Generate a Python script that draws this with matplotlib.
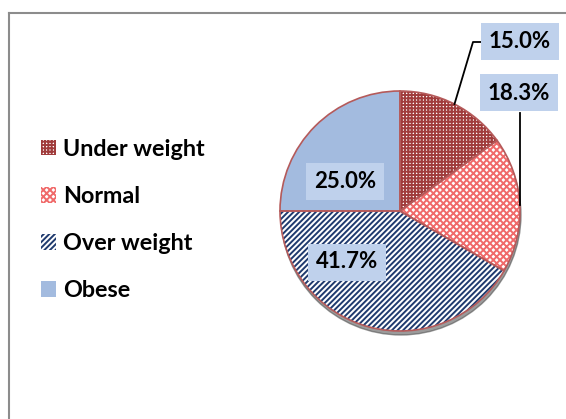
"""BMI category pie chart - recreated from an Excel-style figure."""

import numpy as np
import matplotlib
matplotlib.use("Agg")
import matplotlib.pyplot as plt
from matplotlib.patches import Circle
from matplotlib.lines import Line2D

categories = ["Under weight", "Normal", "Over weight", "Obese"]
shares = [15.0, 18.3, 41.7, 25.0]

hatch_colors = ["#A03C3C", "#F06A6A", "#1F3A6E", "#A3BBDF"]
hatches = ["+++++", "xxxxx", "//////", None]
edge_color = "#B55A5A"
box_color = "#BFD1EC"

plt.rcParams["font.family"] = ["Lato", "DejaVu Sans"]
plt.rcParams["hatch.linewidth"] = 1.4

W, H = 566, 419
fig = plt.figure(figsize=(W / 100, H / 100), dpi=100)
ax = fig.add_axes([0, 0, 1, 1])

cx, cy, r = 400, H - 211, 120

# soft shadow under the pie
ax.add_patch(Circle((cx + 1, cy - 4), r, color="#4a4a4a", alpha=0.55, zorder=0))

wedges, _ = ax.pie(shares, startangle=90, counterclock=False, center=(cx, cy),
                   radius=r, wedgeprops=dict(linewidth=0))
for w, hc, ht in zip(wedges, hatch_colors, hatches):
    if ht is None:
        w.set_facecolor(hc)
        w.set_edgecolor(hc)
    else:
        w.set_facecolor("white")
        w.set_edgecolor(hc)
        w.set_hatch(ht)
    w.set_zorder(1)

# outlines drawn on top
outline, _ = ax.pie(shares, startangle=90, counterclock=False, center=(cx, cy),
                    radius=r, wedgeprops=dict(facecolor="none", edgecolor=edge_color,
                                              linewidth=1.2))
for w in outline:
    w.set_zorder(2)

ax.set_xlim(0, W)
ax.set_ylim(0, H)
ax.set_aspect("auto")
ax.axis("off")

label_style = dict(fontsize=16, fontweight="bold", ha="center", va="center",
                   zorder=5, bbox=dict(boxstyle="square,pad=0.36", facecolor=box_color,
                                       edgecolor="none"))

# outside labels with leader lines from slice mid-angles
mids = [(w.theta1 + w.theta2) / 2 for w in wedges]
anchors = [(cx + r * np.cos(np.radians(a)), cy + r * np.sin(np.radians(a))) for a in mids]

t_pos = {0: (520, H - 42), 1: (519, H - 93), 2: (347, H - 262), 3: (345, H - 182)}
for i, s in enumerate(shares):
    ax.text(*t_pos[i], f"{s:.1f}%", **label_style)

ax0 = anchors[0]
ax.add_line(Line2D([ax0[0], 473, 484], [ax0[1], H - 42, H - 42], color="black",
                   lw=1.3, zorder=4))
ax1 = anchors[1]
ax.add_line(Line2D([ax1[0], ax1[0]], [ax1[1], H - 113], color="black", lw=1.3, zorder=4))

leg = ax.legend(wedges, categories, loc="center left", bbox_to_anchor=(20 / W, 1 - 220 / H),
                frameon=False, prop=dict(size=16.8, weight="bold"), labelspacing=1.12,
                handlelength=0.65, handleheight=0.65, handletextpad=0.3)

# chart-area border (cut off at right and bottom)
fig.add_artist(Line2D([9 / W, 1], [1 - 13 / H, 1 - 13 / H], color="#8C8C8C", lw=1.5,
                      transform=fig.transFigure))
fig.add_artist(Line2D([9 / W, 9 / W], [0, 1 - 13 / H], color="#8C8C8C", lw=1.5,
                      transform=fig.transFigure))

fig.savefig("out.png", dpi=100)
